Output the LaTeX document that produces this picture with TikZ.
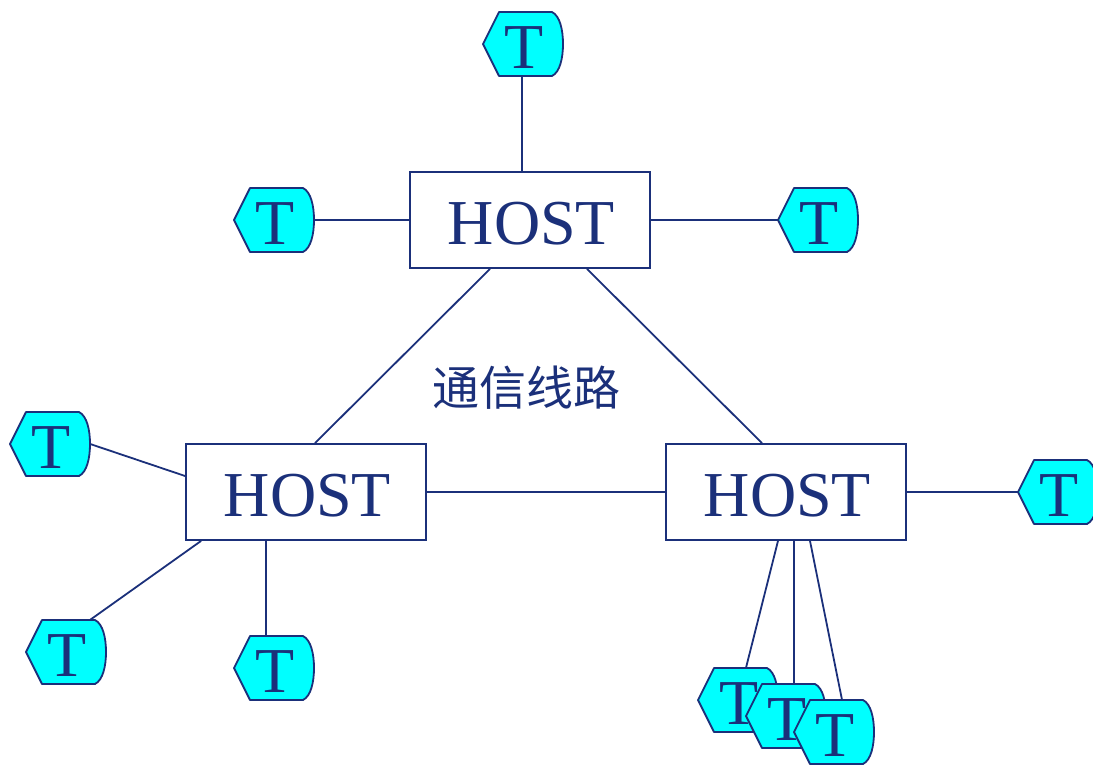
\documentclass[tikz,border=0pt]{standalone}
\usepackage{fontspec}
\setmainfont{Liberation Serif}
\newfontfamily\cjkfont{Noto Sans CJK SC}
\usetikzlibrary{backgrounds}
\definecolor{navy}{RGB}{27,48,122}
\definecolor{termfill}{RGB}{0,255,255}
\tikzset{
  wire/.style={draw=navy,line width=1.8pt},
  hostbox/.style={draw=navy,line width=1.8pt,fill=white,minimum width=240pt,minimum height=96pt,inner sep=0pt,
    text height=48.5pt,text depth=0pt,font=\fontsize{64}{64}\selectfont,text=navy},
  termshape/.style={draw=navy,line width=1.8pt,fill=termfill,line join=round},
  termtext/.style={minimum width=80pt,minimum height=64pt,inner sep=0pt,text height=48pt,text depth=0pt,
    font=\fontsize{64}{64}\selectfont,text=navy},
  notelabel/.style={inner sep=0pt,font=\cjkfont\fontsize{47}{47}\selectfont,text=navy},
}
\newcommand{\termnode}[3]{%
  \draw[termshape] (#2,#3+32) -- (#2+16,#3) -- (#2+69,#3)
    .. controls (#2+77,#3+4) and (#2+80,#3+18) .. (#2+80,#3+32)
    .. controls (#2+80,#3+46) and (#2+77,#3+60) .. (#2+69,#3+64)
    -- (#2+16,#3+64) -- cycle;
  \node[termtext] (#1) at (#2+40,#3+32) {\hspace*{3pt}T};
}
\begin{document}
\begin{tikzpicture}[x=1pt,y=-1pt]
\useasboundingbox (0,0) rectangle (1093,764);
\node[hostbox] (H1) at (530,220) {\hspace*{3pt}HOST};
\node[hostbox] (H2) at (306,492) {\hspace*{3pt}HOST};
\node[hostbox] (H3) at (786,492) {\hspace*{3pt}HOST};
\termnode{T1}{483}{12}
\termnode{T2}{234}{188}
\termnode{T3}{778}{188}
\termnode{T4}{10}{412}
\termnode{T5}{26}{620}
\termnode{T6}{234}{636}
\termnode{T7}{1018}{460}
\termnode{T8}{698}{668}
\termnode{T9}{746}{684}
\termnode{T10}{794}{700}
\node[notelabel] (L) at (526,388) {通信线路};
\begin{scope}[on background layer]
\draw[wire] ([xshift=-1pt]T1.south) -- ([xshift=-8pt]H1.north);
\draw[wire] (T2.east) -- (T2.east -| H1.west);
\draw[wire] (H1.east) -- (T3.west);
\draw[wire] ([xshift=-40pt]H1.south) -- ([xshift=9pt]H2.north);
\draw[wire] ([xshift=57pt]H1.south) -- ([xshift=-24pt]H3.north);
\draw[wire] (H2.east) -- (H3.west);
\draw[wire] (T4.east) -- ([yshift=16pt]H2.west);
\draw[wire] ([xshift=-16pt]T5.north east) -- ([xshift=16pt]H2.south west);
\draw[wire] ([xshift=-8pt]T6.north) -- ([xshift=-40pt]H2.south);
\draw[wire] (H3.east) -- (T7.west);
\draw[wire] ([xshift=8pt]T8.north) -- ([xshift=-8pt]H3.south);
\draw[wire] ([xshift=8pt]T9.north) -- ([xshift=8pt]H3.south);
\draw[wire] ([xshift=8pt]T10.north) -- ([xshift=24pt]H3.south);
\end{scope}
\end{tikzpicture}
\end{document}
